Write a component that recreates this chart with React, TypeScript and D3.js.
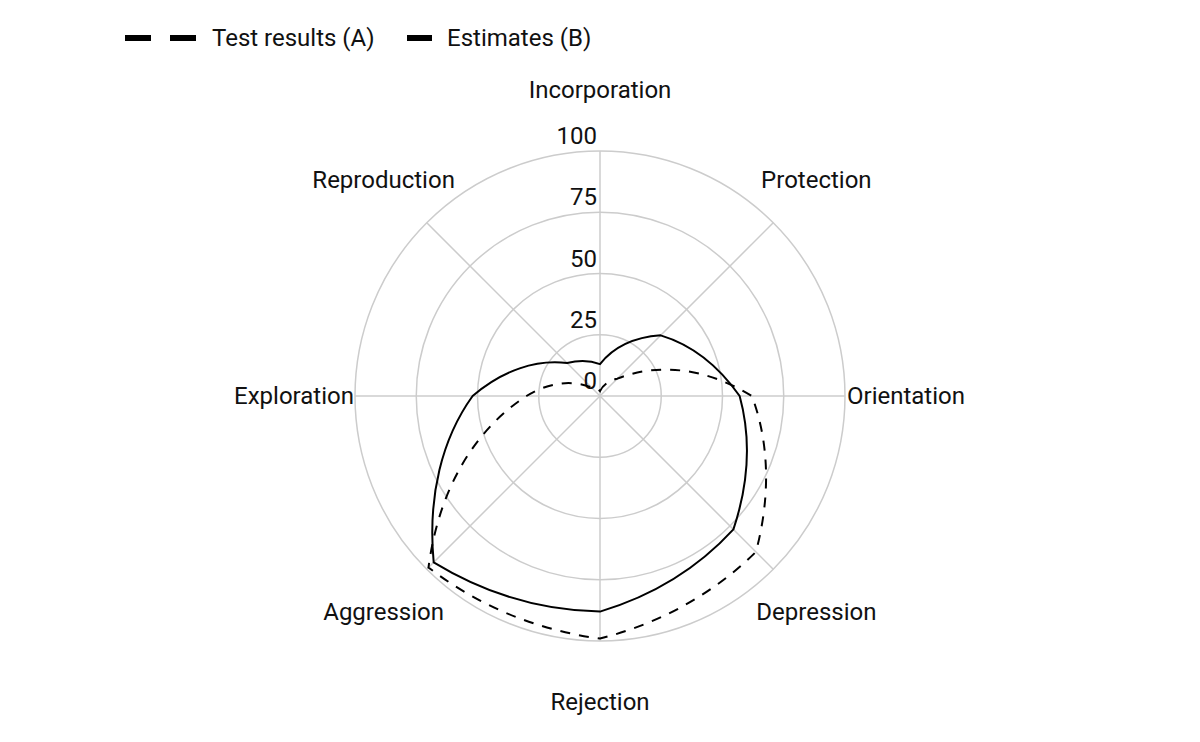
import { useEffect, useRef } from 'react';
import * as d3 from 'd3';

const categories = [
  'Incorporation',
  'Protection',
  'Orientation',
  'Depression',
  'Rejection',
  'Aggression',
  'Exploration',
  'Reproduction',
];

const testResults = [2, 10, 62, 90, 99, 99, 30, 5];
const estimates = [13, 35, 57, 77, 88, 96, 52, 19];

const radialTicks = [0, 25, 50, 75, 100];

const seriesList = [
  { name: 'Test results (A)', values: testResults, dash: '10,9' },
  { name: 'Estimates (B)', values: estimates, dash: null },
];

const WIDTH = 1200;
const HEIGHT = 742;

export default function App() {
  const svgRef = useRef<SVGSVGElement>(null);

  useEffect(() => {
    const svg = d3.select(svgRef.current);
    svg.selectAll('*').remove();

    const cx = 600;
    const cy = 396;
    const outer = 245;
    const font = 'Roboto, "Noto Sans", sans-serif';
    const fontSize = '24px';

    const r = d3.scaleLinear().domain([0, 100]).range([0, outer]);
    const angle = d3.scaleLinear()
      .domain([0, categories.length])
      .range([0, 2 * Math.PI]);

    const polar = (a: number, rad: number): [number, number] => [
      cx + rad * Math.sin(a),
      cy - rad * Math.cos(a),
    ];

    const g = svg.append('g');

    // grid circles
    g.selectAll('.ring')
      .data(radialTicks.filter(d => d > 0))
      .enter().append('circle')
      .attr('cx', cx)
      .attr('cy', cy)
      .attr('r', d => r(d))
      .attr('fill', 'none')
      .attr('stroke', '#cccccc')
      .attr('stroke-width', 1.5);

    // spokes
    g.selectAll('.spoke')
      .data(categories)
      .enter().append('line')
      .attr('x1', cx)
      .attr('y1', cy)
      .attr('x2', (d, i) => polar(angle(i), outer)[0])
      .attr('y2', (d, i) => polar(angle(i), outer)[1])
      .attr('stroke', '#cccccc')
      .attr('stroke-width', 1.5);

    // category labels
    g.selectAll('.cat')
      .data(categories)
      .enter().append('text')
      .attr('x', (d, i) => polar(angle(i), outer + 61)[0])
      .attr('y', (d, i) => polar(angle(i), outer + 61)[1])
      .attr('text-anchor', 'middle')
      .attr('dominant-baseline', 'central')
      .style('font-family', font)
      .style('font-size', fontSize)
      .style('fill', '#111')
      .text(d => d);

    // radial tick labels
    g.selectAll('.rtick')
      .data(radialTicks)
      .enter().append('text')
      .attr('x', cx - 3)
      .attr('y', d => cy - r(d) - 15)
      .attr('text-anchor', 'end')
      .attr('dominant-baseline', 'central')
      .style('font-family', font)
      .style('font-size', fontSize)
      .style('fill', '#111')
      .text(d => d);

    // series: each segment is a bezier whose control points follow the polar interpolation
    const n = categories.length;
    seriesList.forEach(s => {
      const p = d3.path();
      s.values.forEach((v0, i) => {
        const v1 = s.values[(i + 1) % n];
        const at = (t: number) => polar(angle(i + t), r(v0 + (v1 - v0) * t));
        const p0 = at(0);
        const c1 = at(1 / 3);
        const c2 = at(2 / 3);
        const p3 = at(1);
        if (i === 0) p.moveTo(p0[0], p0[1]);
        p.bezierCurveTo(c1[0], c1[1], c2[0], c2[1], p3[0], p3[1]);
      });
      p.closePath();
      g.append('path')
        .attr('d', p.toString())
        .attr('fill', 'none')
        .attr('stroke', '#000')
        .attr('stroke-width', 2)
        .attr('stroke-dasharray', s.dash)
        .attr('stroke-linejoin', 'miter');
    });

    // legend
    const legend = svg.append('g');
    const legendItems = [
      { x: 125, len: 72, dash: '26,19', label: seriesList[0].name },
      { x: 407, len: 25, dash: null, label: seriesList[1].name },
    ];
    legendItems.forEach(item => {
      legend.append('line')
        .attr('x1', item.x)
        .attr('x2', item.x + item.len)
        .attr('y1', 38)
        .attr('y2', 38)
        .attr('stroke', '#000')
        .attr('stroke-width', 6)
        .attr('stroke-dasharray', item.dash);
      legend.append('text')
        .attr('x', item.x + item.len + 15)
        .attr('y', 38)
        .attr('dominant-baseline', 'central')
        .style('font-family', font)
        .style('font-size', fontSize)
        .style('fill', '#111')
        .text(item.label);
    });
  }, []);

  return (
    <svg
      ref={svgRef}
      width={WIDTH}
      height={HEIGHT}
      style={{ position: 'absolute', left: 0, top: 0, background: '#fff', display: 'block' }}
    />
  );
}
